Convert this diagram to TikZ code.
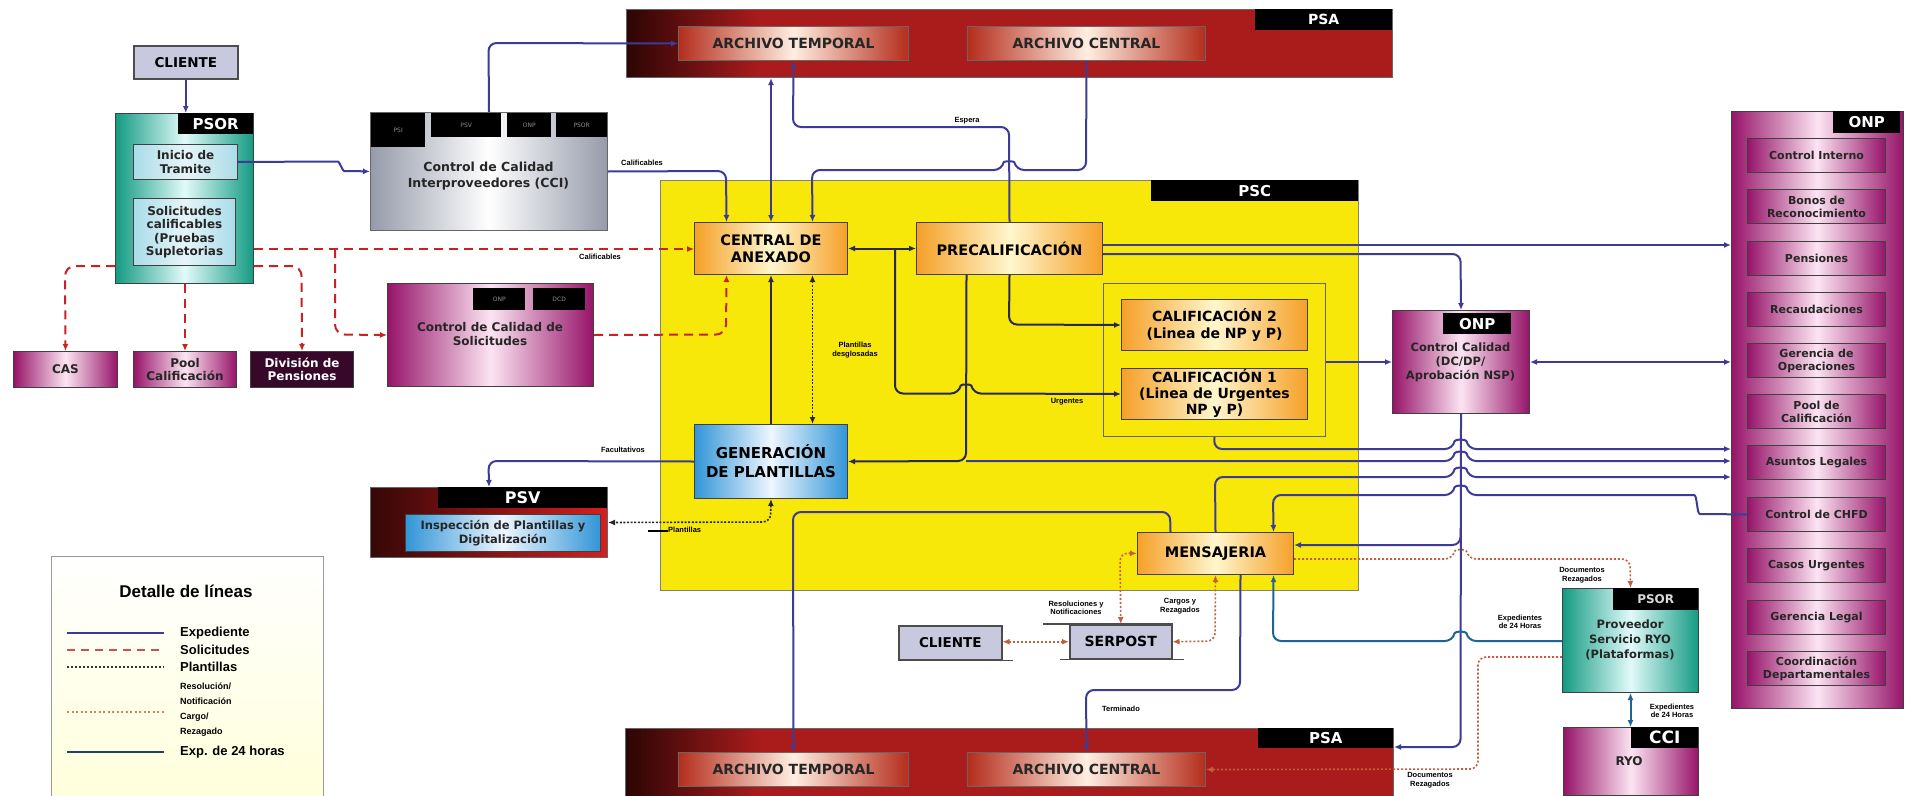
\documentclass[tikz,border=0pt]{standalone}
\usepackage{fontspec}
\setmainfont{DejaVu Sans}
\newfontfamily\lgf{Liberation Sans}
\usetikzlibrary{arrows.meta,calc}
\definecolor{expc}{RGB}{60,60,150}
\definecolor{expd}{RGB}{40,40,90}
\definecolor{solc}{RGB}{200,35,35}
\definecolor{resc}{RGB}{195,95,60}
\definecolor{tealc}{RGB}{30,100,150}
\definecolor{onpd}{RGB}{150,20,105}
\definecolor{onpl}{RGB}{252,228,242}
\definecolor{psaR}{RGB}{170,28,28}
\definecolor{psaD}{RGB}{45,5,5}
\definecolor{archR}{RGB}{180,45,28}
\definecolor{archL}{RGB}{255,238,225}
\definecolor{ylw}{RGB}{248,232,10}
\definecolor{orgD}{RGB}{245,160,40}
\definecolor{orgL}{RGB}{255,246,205}
\definecolor{bluD}{RGB}{50,150,215}
\definecolor{bluL}{RGB}{238,246,255}
\definecolor{grnD}{RGB}{20,155,130}
\definecolor{grnL}{RGB}{225,250,250}
\definecolor{cyanbox}{RGB}{170,220,232}
\definecolor{cli}{RGB}{200,200,222}
\definecolor{silv}{RGB}{150,155,170}
\definecolor{psvR}{RGB}{215,30,30}
\newcommand\hopR[1]{-- (1453,#1) .. controls (1455,{#1-10}) and (1466,{#1-10}) .. (1468,#1)}
\newcommand\hopL[1]{-- (1468,#1) .. controls (1466,{#1-10}) and (1455,{#1-10}) .. (1453,#1)}
\tikzset{
  box/.style={draw=black!75, line width=1pt, inner sep=1pt, align=center, anchor=north west,
    font=\bfseries\fontsize{14.5}{17}\selectfont},
  orgbox/.style={box, left color=orgD, right color=orgD, middle color=orgL},
  blubox/.style={box, left color=bluD, right color=bluD, middle color=bluL},
  grnbox/.style={box, left color=grnD, right color=grnD, middle color=grnL},
  onpbox/.style={box, left color=onpd, right color=onpd, middle color=onpl,
    font=\bfseries\fontsize{11}{13}\selectfont, text=black!85},
  onprow/.style={onpbox, minimum width=138pt, minimum height=34pt},
  archbox/.style={box, left color=archR, right color=archR, middle color=archL,
    draw=black!60, font=\bfseries\fontsize{14}{16}\selectfont, text=black!85},
  cyb/.style={box, left color=cyanbox, right color=cyanbox, middle color=white!70!cyanbox,
    font=\bfseries\fontsize{12}{13.5}\selectfont, text=black!85},
  clibox/.style={box, fill=cli, draw=black!70, line width=1.5pt, font=\bfseries\fontsize{13.5}{15}\selectfont},
  tagb/.style={fill=black, text=white, inner sep=0pt, anchor=north west, align=center,
    font=\bfseries\fontsize{15}{15}\selectfont},
  tabb/.style={fill=black, text=black!45, inner sep=0pt, anchor=north west,
    font=\rmfamily\fontsize{6}{6}\selectfont},
  txt/.style={inner sep=0pt, align=center, font=\bfseries\fontsize{12}{14}\selectfont, text=black!85},
  lab/.style={inner sep=0pt, align=center, font=\lgf\bfseries\fontsize{7.5}{8.5}\selectfont},
  legtxt/.style={inner sep=0pt, anchor=west, font=\lgf\bfseries\fontsize{13}{13}\selectfont},
  exp/.style={draw=expc, line width=2pt, rounded corners=8pt},
  expd/.style={draw=expd, line width=2pt, rounded corners=8pt},
  tealln/.style={draw=tealc, line width=2pt, rounded corners=8pt},
  sol/.style={draw=solc, line width=2pt, dash pattern=on 9pt off 6pt, rounded corners=10pt},
  plant/.style={draw=black!85, line width=1.6pt, dash pattern=on 2pt off 1.6pt, rounded corners=8pt},
  res/.style={draw=resc, line width=1.6pt, dash pattern=on 2pt off 2pt, rounded corners=8pt},
}
\begin{document}
\begin{tikzpicture}[x=1pt,y=-1pt,>={Latex[length=7pt,width=6pt]}]
\useasboundingbox (0,0) rectangle (1910,795);
\fill[white] (0,0) rectangle (1910,795);

% ---------- PSA top band
\node[box, fill=psaR, draw=black!60, minimum width=766pt, minimum height=68pt] (psa1) at (626,9) {};
\shade[left color=psaD, right color=psaR] (627,10) rectangle (760,76);
\node[tagb, minimum width=137pt, minimum height=21pt, font=\bfseries\fontsize{14}{14}\selectfont] (psa1t) at (1255,9) {PSA};
\node[archbox, minimum width=230pt, minimum height=34pt] (at1) at (678,26) {ARCHIVO TEMPORAL};
\node[archbox, minimum width=238pt, minimum height=34pt] (ac1) at (967,26) {ARCHIVO CENTRAL};

% ---------- PSA bottom band
\node[box, fill=psaR, draw=black!60, minimum width=768pt, minimum height=68pt] (psa2) at (625,728) {};
\shade[left color=psaD, right color=psaR] (626,729) rectangle (760,795);
\node[tagb, minimum width=135pt, minimum height=20pt, font=\bfseries\fontsize{15}{15}\selectfont] (psa2t) at (1258,728) {PSA};
\node[archbox, minimum width=230pt, minimum height=34pt] (at2) at (678,752) {ARCHIVO TEMPORAL};
\node[archbox, minimum width=238pt, minimum height=34pt] (ac2) at (967,752) {ARCHIVO CENTRAL};

% ---------- PSC
\node[box, fill=ylw, draw=black!50, minimum width=698pt, minimum height=410pt] (psc) at (660,180) {};
\node[tagb, minimum width=207pt, minimum height=21pt] (psct) at (1151,180) {PSC};
\node[box, draw=black!60, minimum width=222pt, minimum height=153pt] (calbox) at (1103,283) {};
\node[orgbox, minimum width=153pt, minimum height=52pt] (cda) at (694,222) {CENTRAL DE\\ANEXADO};
\node[orgbox, minimum width=186pt, minimum height=52pt] (precal) at (916,222) {PRECALIFICACIÓN};
\node[orgbox, minimum width=186pt, minimum height=51pt, font=\bfseries\fontsize{14}{16.5}\selectfont] (cal2) at (1121,299) {CALIFICACIÓN 2\\(Linea de NP y P)};
\node[orgbox, minimum width=186pt, minimum height=51pt, font=\bfseries\fontsize{14}{16}\selectfont] (cal1) at (1121,368) {CALIFICACIÓN 1\\(Linea de Urgentes\\NP y P)};
\node[blubox, minimum width=153pt, minimum height=74pt, font=\bfseries\fontsize{15}{19}\selectfont] (gen) at (694,424) {GENERACIÓN\\DE PLANTILLAS};
\node[orgbox, minimum width=156pt, minimum height=42pt] (mens) at (1137,532) {MENSAJERIA};

% ---------- PSOR left
\node[clibox, minimum width=104pt, minimum height=33pt] (cli1) at (133,45) {CLIENTE};
\node[grnbox, minimum width=138pt, minimum height=170pt] (psor) at (115,113) {};
\node[tagb, minimum width=75pt, minimum height=21pt] (psort) at (178,113) {PSOR};
\node[cyb, minimum width=104pt, minimum height=35pt] (inicio) at (133,144) {Inicio de\\Tramite};
\node[cyb, minimum width=102pt, minimum height=67pt] (solic) at (133,198) {Solicitudes\\calificables\\(Pruebas\\Supletorias};
\node[onpbox, minimum width=104pt, minimum height=36pt, font=\bfseries\fontsize{12}{13.5}\selectfont] (cas) at (13,351) {CAS};
\node[onpbox, minimum width=103pt, minimum height=36pt, font=\bfseries\fontsize{12}{13.5}\selectfont] (pool) at (133,351) {Pool\\Calificación};
\node[box, fill={rgb,255:red,55;green,8;blue,42}, text=white!85, minimum width=103pt, minimum height=36pt, font=\bfseries\fontsize{12}{13.5}\selectfont] (divis) at (250,351) {División de\\Pensiones};

% ---------- CCI
\node[box, left color=silv, right color=silv, middle color=white, draw=black!60, minimum width=237pt, minimum height=118pt] (cci) at (370,112) {};
\node[tabb, minimum width=54pt, minimum height=34pt] (tpsi) at (371,113) {PSI};
\node[tabb, minimum width=70pt, minimum height=24pt] (tpsv) at (431,113) {PSV};
\node[tabb, minimum width=44pt, minimum height=24pt] (tonp) at (507,113) {ONP};
\node[tabb, minimum width=51pt, minimum height=24pt] (tpsor) at (556,113) {PSOR};
\node[txt, font=\bfseries\fontsize{12.5}{15.5}\selectfont] (ccit) at (488.5,176) {Control de Calidad\\Interproveedores (CCI)};

% ---------- Control de Calidad de Solicitudes
\node[onpbox, minimum width=206pt, minimum height=103pt] (ccs) at (387,283) {};
\node[tabb, minimum width=52pt, minimum height=22pt] (ccsonp) at (473,288) {ONP};
\node[tabb, minimum width=52pt, minimum height=22pt] (ccsdcd) at (533,288) {DCD};
\node[txt, font=\bfseries\fontsize{12}{14}\selectfont] (ccst) at (490,334) {Control de Calidad de\\Solicitudes};

% ---------- PSV
\node[box, left color=psvR!25!black, middle color=psvR, right color=psvR, draw=black!60, minimum width=237pt, minimum height=70pt] (psv) at (370,487) {};
\node[tagb, minimum width=169pt, minimum height=21pt, font=\bfseries\fontsize{16}{16}\selectfont] (psvt) at (438,487) {PSV};
\node[blubox, minimum width=195pt, minimum height=37pt, font=\bfseries\fontsize{11.5}{13.5}\selectfont, text=black!85] (insp) at (405,514) {Inspección de Plantillas y\\Digitalización};

% ---------- ONP control calidad
\node[onpbox, minimum width=137pt, minimum height=103pt] (onpcc) at (1392,310) {};
\node[tagb, minimum width=68pt, minimum height=21pt] (onpcct) at (1443,313) {ONP};
\node[txt, font=\bfseries\fontsize{11.5}{14}\selectfont] (onpcctx) at (1460.5,362) {Control Calidad\\(DC/DP/\\Aprobación NSP)};

% ---------- ONP column
\node[onpbox, minimum width=172pt, minimum height=597pt] (onpcol) at (1731,111) {};
\node[tagb, minimum width=67pt, minimum height=22pt] (onpcolt) at (1833,111) {ONP};
\node[onprow] (r1) at (1747,138) {Control Interno};
\node[onprow] (r2) at (1747,189) {Bonos de\\Reconocimiento};
\node[onprow] (r3) at (1747,241) {Pensiones};
\node[onprow] (r4) at (1747,292) {Recaudaciones};
\node[onprow] (gerop) at (1747,343) {Gerencia de\\Operaciones};
\node[onprow] (r6) at (1747,394) {Pool de\\Calificación};
\node[onprow] (r7) at (1747,445) {Asuntos Legales};
\node[onprow] (chfd) at (1747,497) {Control de CHFD};
\node[onprow] (r9) at (1747,548) {Casos Urgentes};
\node[onprow] (r10) at (1747,600) {Gerencia Legal};
\node[onprow] (r11) at (1747,651) {Coordinación\\Departamentales};

% ---------- bottom right
\node[grnbox, minimum width=136pt, minimum height=104pt] (ryo) at (1562,588) {};
\node[tagb, minimum width=85pt, minimum height=22pt, text=black!15, font=\bfseries\fontsize{12}{12}\selectfont] (ryot) at (1613,588) {PSOR};
\node[txt, font=\bfseries\fontsize{11.5}{15}\selectfont] (ryotx) at (1630,640) {Proveedor\\Servicio RYO\\(Plataformas)};
\node[onpbox, minimum width=135pt, minimum height=68pt] (cciryo) at (1563,727) {};
\node[tagb, minimum width=67pt, minimum height=21pt, font=\bfseries\fontsize{17}{17}\selectfont] (cciryot) at (1631,727) {CCI};
\node[txt, font=\bfseries\fontsize{12}{12}\selectfont] (ryotxt) at (1629,761) {RYO};

% ---------- bottom clients
\node[clibox, minimum width=103pt, minimum height=34pt] (cli2) at (898,625) {CLIENTE};
\node[clibox, minimum width=102pt, minimum height=34pt, font=\bfseries\fontsize{14}{15}\selectfont] (serpost) at (1069,624) {SERPOST};
\draw[black!70, line width=1.5pt] (cli2.south west) -- ([xshift=10pt]cli2.south east);
\draw[black!70, line width=1.5pt] ([xshift=-26pt]serpost.north west) -- (serpost.north east);
\draw[black!70, line width=1.5pt] ([xshift=-9pt]serpost.south west) -- ([xshift=11pt]serpost.south east);

% ---------- Legend
\node[box, draw=black!40, line width=0.8pt, top color=white, bottom color=yellow!14, minimum width=272pt, minimum height=240pt] (leg) at (51,556) {};
\node[inner sep=0pt, font=\lgf\bfseries\fontsize{17}{17}\selectfont] (legt) at (186,591) {Detalle de líneas};
\coordinate (l1a) at (67,633); \coordinate (l1b) at (164,633);
\coordinate (l2a) at (67,650); \coordinate (l2b) at (164,650);
\coordinate (l3a) at (67,667); \coordinate (l3b) at (164,667);
\coordinate (l4a) at (67,712); \coordinate (l4b) at (164,712);
\coordinate (l5a) at (67,752); \coordinate (l5b) at (164,752);
\draw[draw=expc, line width=2.6pt] (l1a) -- (l1b);
\draw[draw=solc!80, line width=2pt, dash pattern=on 8pt off 6pt] (l2a) -- (l2b);
\draw[draw=black!80, line width=1.6pt, dash pattern=on 2pt off 2pt] (l3a) -- (l3b);
\draw[draw=resc!80, line width=1.6pt, dash pattern=on 2pt off 2.5pt] (l4a) -- (l4b);
\draw[draw={rgb,255:red,30;green,70;blue,100}, line width=2.6pt] (l5a) -- (l5b);
\node[legtxt] (lt1) at (180,633) {Expediente};
\node[legtxt] (lt2) at (180,650) {Solicitudes};
\node[legtxt] (lt3) at (180,667) {Plantillas};
\node[legtxt, align=left, font=\lgf\bfseries\fontsize{9}{15}\selectfont] (lt4) at (180,710) {Resolución/\\Notificación\\Cargo/\\Rezagado};
\node[legtxt] (lt5) at (180,752) {Exp. de 24 horas};

% ================= CONNECTORS
% solicitudes (red dashed)
\draw[sol,->] (psor.east |- 0,249) -- (cda.west |- 0,249);
\coordinate (j1) at (335,249);
\draw[sol,->] (j1) -- (335,334.5) -- (ccs.west);
\draw[sol,->] (psor.west |- 0,266) -- (65,266) -- (cas.north);
\draw[sol,->] (psor.east |- 0,266) -- (301.5,266) -- (divis.north);
\draw[sol,->] (pool.north |- psor.south) -- (pool.north);
\draw[sol,->] (ccs.east) -- (726,334.5) -- ([xshift=-44.5pt]cda.south);

% expediente
\draw[exp,->] (cli1.south) -- (cli1.south |- psor.north);
\draw[exp,->] (inicio.east) -- (330,161.5) to[out=0,in=180] (352,171) -- (cci.west);
\draw[exp,->] (cci.north) -- (488.5,43) -- (at1.west);
\draw[exp,->] (cci.east) -- (726,171) -- ([xshift=-44.5pt]cda.north);
\draw[exp,<->] (cda.north) -- (cda.north |- psa1.south);
\draw[exp,->] (ac1.south) -- (1086,170) -- (1016,170) .. controls (1014,161) and (1004,161) .. (1002,170) -- (812,170) -- ([xshift=41.5pt]cda.north);
\draw[exp,->] (precal.north) -- (1009,127) -- (793,127) -- (at1.south);
\draw[expd,<->] (cda.east) -- (precal.west);
\coordinate (j2) at (895,248);
\draw[expd,->] (j2) -- (895,393.5) -- (959,393.5) .. controls (961,384) and (971,384) .. (973,393.5) -- (cal1.west);
\draw[expd,->] (precal.south) -- (1009,324.5) -- (cal2.west);
\draw[expd,->] ([xshift=-43pt]precal.south) -- (966,461) -- (gen.east);
\coordinate (j3) at (966,461);
\draw[exp,->] (j3) \hopR{461} -- (onpcol.west |- 0,461);
\draw[exp,->] (precal.east |- 0,245) -- (onpcol.west |- 0,245);
\draw[exp,->] (precal.east |- 0,254) -- (1460.5,254) -- (onpcc.north);
\draw[exp,->] (calbox.east |- onpcc.west) -- (onpcc.west);
\draw[exp,<->] (onpcc.east) -- (onpcc.east -| onpcol.west);
\draw[exp,->] (calbox.south) -- (1214,449) \hopR{449} -- (onpcol.west |- 0,449);
\draw[exp,->] (mens.north) -- (1215,477) \hopR{477} -- (onpcol.west |- 0,477);
\draw[exp,->] (chfd.west) -- (1708,514) to[out=180,in=0] (1686,495) \hopL{495} -- (1273,495) -- ([xshift=58pt]mens.north);
\draw[exp,->] (onpcc.south) -- (1460.5,747) -- (psa2.east |- 0,747);
\coordinate (j4) at (1460.5,528);
\draw[exp,->] (j4) -- (1460.5,545) -- (mens.east |- 0,545);
\draw[exp,->] ([xshift=-45pt]mens.north) -- (1170,512) -- (793,512) -- (at2.north);
\draw[exp,->] ([xshift=25pt]mens.south) -- (1240,690) -- (1086,690) -- (ac2.north);
\draw[exp,->] (gen.west) -- (488.5,461) -- (psv.north);
\draw[expd,->] (gen.north) -- (cda.south);

% plantillas (dotted)
\draw[plant,<->] (gen.south) -- (770.5,522) -- (psv.east);
\draw[plant,<->] ([xshift=41.5pt]cda.south) -- ([xshift=41.5pt]gen.north);

% 24 horas
\draw[tealln,->] (ryo.west |- 0,641) \hopL{641} -- (1273,641) -- ([xshift=58pt]mens.south);
\draw[tealln,<->] (ryo.south) -- (ryo.south |- cciryo.north);

% resoluciones / rezagados
\draw[res,->] (mens.east |- 0,559) \hopR{559} -- (1630,559) -- (ryo.north);
\draw[res,->] (ryo.west |- 0,657) -- (1478,657) -- (1478,769) -- (ac2.east);
\draw[res,<->] (mens.west) -- (1120,553) -- (serpost.north);
\draw[res,<->] (mens.south) -- (1215,641) -- (serpost.east);
\draw[res,<->] (serpost.west) -- (cli2.east |- serpost.west);

% ---------- labels
\node[lab] (lb1) at (642,163) {Calificables};
\node[lab] (lb2) at (600,257) {Calificables};
\node[lab] (lb3) at (967,121) {Espera};
\node[lab] (lb4) at (855,350) {Plantillas\\desglosadas};
\node[lab] (lb5) at (1067,402) {Urgentes};
\node[lab] (lb6) at (623,450) {Facultativos};
\draw[black, line width=1.5pt] (648,531) -- (668,531);
\node[lab, anchor=west] (lb7) at (668,530) {Plantillas};
\node[lab] (lb8) at (1076,608) {Resoluciones y\\Notificaciones};
\node[lab] (lb9) at (1180,606) {Cargos y\\Rezagados};
\node[lab] (lb10) at (1121,709) {Terminado};
\node[lab] (lb11) at (1582,575) {Documentos\\Rezagados};
\node[lab] (lb12) at (1520,622) {Expedientes\\de 24 Horas};
\node[lab] (lb13) at (1672,711) {Expedientes\\de 24 Horas};
\node[lab] (lb14) at (1430,780) {Documentos\\Rezagados};
\end{tikzpicture}
\end{document}
